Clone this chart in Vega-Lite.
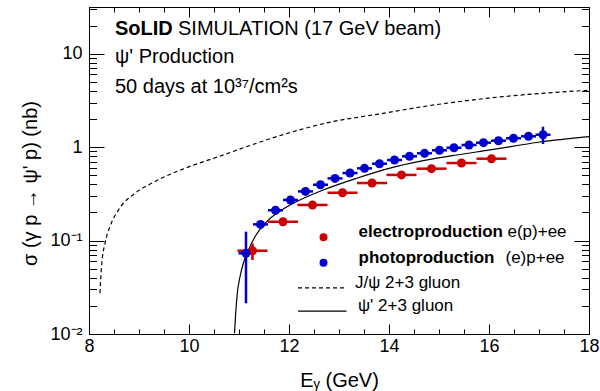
{
  "$schema": "https://vega.github.io/schema/vega-lite/v6.json",
  "width": 500,
  "height": 327,
  "autosize": "none",
  "padding": {"left": 89, "top": 7, "right": 11, "bottom": 57},
  "config": {
    "view": {"stroke": "black", "strokeWidth": 1},
    "font": "Liberation Sans",
    "axis": {"grid": false, "domainColor": "black", "tickColor": "black", "labelColor": "black", "titleColor": "black", "labelFont": "Liberation Sans", "titleFont": "Liberation Sans", "titleFontWeight": "normal", "domainWidth": 1, "tickWidth": 1, "labelFontSize": 18, "labelFlush": false, "labelOverlap": false}
  },
  "datasets": {
    "jpsi": [
      {"E": 8.22, "sigma": 0.0273}, {"E": 8.25, "sigma": 0.0525}, {"E": 8.32, "sigma": 0.0935}, {"E": 8.42, "sigma": 0.141},
      {"E": 8.59, "sigma": 0.213}, {"E": 8.92, "sigma": 0.321}, {"E": 9.25, "sigma": 0.41}, {"E": 9.92, "sigma": 0.594},
      {"E": 10.59, "sigma": 0.791}, {"E": 11.25, "sigma": 1.056}, {"E": 11.92, "sigma": 1.38}, {"E": 12.8, "sigma": 1.84},
      {"E": 13.82, "sigma": 2.27}, {"E": 14.69, "sigma": 2.72}, {"E": 16.0, "sigma": 3.35}, {"E": 18.0, "sigma": 4.07}
    ],
    "psi": [
      {"E": 10.91, "sigma": 0.0102}, {"E": 10.934, "sigma": 0.0167}, {"E": 10.966, "sigma": 0.0273}, {"E": 11.02, "sigma": 0.041},
      {"E": 11.086, "sigma": 0.057}, {"E": 11.186, "sigma": 0.079}, {"E": 11.32, "sigma": 0.11}, {"E": 11.52, "sigma": 0.153},
      {"E": 11.854, "sigma": 0.213}, {"E": 12.02, "sigma": 0.24}, {"E": 12.686, "sigma": 0.348}, {"E": 13.354, "sigma": 0.465},
      {"E": 14.02, "sigma": 0.597}, {"E": 14.686, "sigma": 0.716}, {"E": 15.354, "sigma": 0.824}, {"E": 16.02, "sigma": 0.933},
      {"E": 17.02, "sigma": 1.135}, {"E": 18.0, "sigma": 1.295}
    ],
    "photo": [
      {"E": 11.14, "sigma": 0.0731, "Elo": 10.99, "Ehi": 11.29, "slo": 0.0213, "shi": 0.1245},
      {"E": 11.43, "sigma": 0.149, "Elo": 11.28, "Ehi": 11.58, "slo": 0.145, "shi": 0.153},
      {"E": 11.73, "sigma": 0.211, "Elo": 11.58, "Ehi": 11.88, "slo": 0.205, "shi": 0.217},
      {"E": 12.03, "sigma": 0.272, "Elo": 11.88, "Ehi": 12.18, "slo": 0.265, "shi": 0.279},
      {"E": 12.33, "sigma": 0.336, "Elo": 12.18, "Ehi": 12.48, "slo": 0.327, "shi": 0.345},
      {"E": 12.63, "sigma": 0.396, "Elo": 12.48, "Ehi": 12.78, "slo": 0.385, "shi": 0.407},
      {"E": 12.92, "sigma": 0.463, "Elo": 12.77, "Ehi": 13.07, "slo": 0.451, "shi": 0.475},
      {"E": 13.22, "sigma": 0.528, "Elo": 13.07, "Ehi": 13.37, "slo": 0.514, "shi": 0.542},
      {"E": 13.51, "sigma": 0.593, "Elo": 13.36, "Ehi": 13.66, "slo": 0.577, "shi": 0.609},
      {"E": 13.81, "sigma": 0.665, "Elo": 13.66, "Ehi": 13.96, "slo": 0.647, "shi": 0.683},
      {"E": 14.11, "sigma": 0.728, "Elo": 13.96, "Ehi": 14.26, "slo": 0.708, "shi": 0.748},
      {"E": 14.41, "sigma": 0.798, "Elo": 14.26, "Ehi": 14.56, "slo": 0.776, "shi": 0.82},
      {"E": 14.71, "sigma": 0.859, "Elo": 14.56, "Ehi": 14.86, "slo": 0.836, "shi": 0.882},
      {"E": 15.01, "sigma": 0.925, "Elo": 14.86, "Ehi": 15.16, "slo": 0.9, "shi": 0.95},
      {"E": 15.3, "sigma": 0.986, "Elo": 15.15, "Ehi": 15.45, "slo": 0.959, "shi": 1.013},
      {"E": 15.6, "sigma": 1.054, "Elo": 15.45, "Ehi": 15.75, "slo": 1.025, "shi": 1.083},
      {"E": 15.89, "sigma": 1.116, "Elo": 15.74, "Ehi": 16.04, "slo": 1.085, "shi": 1.147},
      {"E": 16.19, "sigma": 1.172, "Elo": 16.04, "Ehi": 16.34, "slo": 1.14, "shi": 1.204},
      {"E": 16.49, "sigma": 1.244, "Elo": 16.34, "Ehi": 16.64, "slo": 1.21, "shi": 1.278},
      {"E": 16.79, "sigma": 1.306, "Elo": 16.64, "Ehi": 16.94, "slo": 1.27, "shi": 1.342},
      {"E": 17.08, "sigma": 1.359, "Elo": 16.93, "Ehi": 17.23, "slo": 1.081, "shi": 1.655}
    ],
    "electro": [
      {"E": 11.27, "sigma": 0.0779, "Elo": 10.97, "Ehi": 11.57, "slo": 0.0619, "shi": 0.0935},
      {"E": 11.88, "sigma": 0.159, "Elo": 11.58, "Ehi": 12.18, "slo": 0.154, "shi": 0.164},
      {"E": 12.47, "sigma": 0.2405, "Elo": 12.17, "Ehi": 12.77, "slo": 0.233, "shi": 0.248},
      {"E": 13.07, "sigma": 0.325, "Elo": 12.77, "Ehi": 13.37, "slo": 0.315, "shi": 0.335},
      {"E": 13.66, "sigma": 0.413, "Elo": 13.36, "Ehi": 13.96, "slo": 0.401, "shi": 0.425},
      {"E": 14.25, "sigma": 0.504, "Elo": 13.95, "Ehi": 14.55, "slo": 0.489, "shi": 0.519},
      {"E": 14.85, "sigma": 0.588, "Elo": 14.55, "Ehi": 15.15, "slo": 0.571, "shi": 0.605},
      {"E": 15.45, "sigma": 0.676, "Elo": 15.15, "Ehi": 15.75, "slo": 0.656, "shi": 0.696},
      {"E": 16.05, "sigma": 0.752, "Elo": 15.75, "Ehi": 16.35, "slo": 0.73, "shi": 0.774}
    ],
    "legendDots": [
      {"E": 12.69, "sigma": 0.1084, "kind": "electroproduction"},
      {"E": 12.69, "sigma": 0.058, "kind": "photoproduction"}
    ],
    "legendLines": [
      {"E": 12.18, "E2": 13.15, "sigma": 0.0311, "kind": "J/ψ 2+3 gluon"},
      {"E": 12.18, "E2": 13.15, "sigma": 0.0176, "kind": "ψ' 2+3 gluon"}
    ],
    "boldText": [
      {"E": 8.52, "sigma": 15.9, "label": "SoLID", "group": "header"},
      {"E": 13.39, "sigma": 0.1084, "label": "electroproduction", "group": "legend"},
      {"E": 13.39, "sigma": 0.058, "label": "photoproduction", "group": "legend"}
    ],
    "plainText": [
      {"E": 9.78, "sigma": 15.9, "label": "SIMULATION (17 GeV beam)", "group": "header"},
      {"E": 8.52, "sigma": 7.95, "label": "ψ' Production", "group": "header"},
      {"E": 8.52, "sigma": 3.8, "label": "50 days at 10³⁷/cm²s", "group": "header"},
      {"E": 16.37, "sigma": 0.1084, "label": "e(p)+ee", "group": "legend"},
      {"E": 16.33, "sigma": 0.058, "label": "(e)p+ee", "group": "legend"},
      {"E": 13.32, "sigma": 0.0311, "label": "J/ψ 2+3 gluon", "group": "legend"},
      {"E": 13.38, "sigma": 0.0176, "label": "ψ' 2+3 gluon", "group": "legend"}
    ]
  },
  "resolve": {"axis": {"x": "independent", "y": "independent"}},
  "layer": [
    {
      "data": {"name": "jpsi"},
      "mark": {"type": "line", "color": "black", "strokeWidth": 1.2, "strokeDash": [4, 3], "interpolate": "monotone", "clip": true},
      "encoding": {
        "x": {"field": "E", "type": "quantitative", "scale": {"domain": [8, 18], "nice": false, "zero": false},
              "axis": {"orient": "bottom", "values": [8, 10, 12, 14, 16, 18], "tickSize": -10, "labelPadding": 13, "title": "Eᵧ (GeV)", "titleFontSize": 20, "titleX": 250, "titleY": 52, "titleBaseline": "alphabetic", "titleAnchor": "middle"}},
        "y": {"field": "sigma", "type": "quantitative", "scale": {"type": "log", "domain": [0.01, 31.62], "nice": false},
              "axis": {"orient": "left", "values": [0.01, 0.1, 1, 10], "tickSize": -15, "labelPadding": 22, "labelBaseline": "middle",
                       "labelExpr": "datum.value == 10 ? '10' : datum.value == 1 ? '1' : datum.value == 0.1 ? '10⁻¹' : '10⁻²'",
                       "title": "σ (γ p → ψ' p) (nb)", "titleFontSize": 20, "titleX": -59, "titleY": 176, "titleBaseline": "middle", "titleAngle": -90}}
      }
    },
    {
      "data": {"name": "psi"},
      "mark": {"type": "line", "color": "black", "strokeWidth": 1.2, "interpolate": "monotone", "clip": true},
      "encoding": {
        "x": {"field": "E", "type": "quantitative", "scale": {"domain": [8, 18], "nice": false, "zero": false},
              "axis": {"orient": "top", "values": [8, 10, 12, 14, 16, 18], "tickSize": -10, "labels": false, "title": null}},
        "y": {"field": "sigma", "type": "quantitative", "scale": {"type": "log", "domain": [0.01, 31.62], "nice": false},
              "axis": {"orient": "right", "values": [0.01, 0.1, 1, 10], "tickSize": -15, "labels": false, "title": null}}
      }
    },
    {
      "data": {"name": "photo"},
      "mark": {"type": "rule", "color": "#0000cc", "strokeWidth": 2.5},
      "encoding": {
        "x": {"field": "Elo", "type": "quantitative", "scale": {"domain": [8, 18], "nice": false, "zero": false},
              "axis": {"orient": "bottom", "values": [8.5, 9, 9.5, 10.5, 11, 11.5, 12.5, 13, 13.5, 14.5, 15, 15.5, 16.5, 17, 17.5], "tickSize": -5, "labels": false, "domain": false, "title": null}},
        "x2": {"field": "Ehi"},
        "y": {"field": "sigma", "type": "quantitative", "scale": {"type": "log", "domain": [0.01, 31.62], "nice": false},
              "axis": {"orient": "left", "values": [0.02, 0.03, 0.04, 0.05, 0.06, 0.07, 0.08, 0.09, 0.2, 0.3, 0.4, 0.5, 0.6, 0.7, 0.8, 0.9, 2, 3, 4, 5, 6, 7, 8, 9, 20, 30], "tickSize": -7.5, "labels": false, "domain": false, "title": null}}
      }
    },
    {
      "data": {"name": "photo"},
      "mark": {"type": "rule", "color": "#0000cc", "strokeWidth": 2.5},
      "encoding": {
        "x": {"field": "E", "type": "quantitative", "scale": {"domain": [8, 18], "nice": false, "zero": false},
              "axis": {"orient": "top", "values": [8.5, 9, 9.5, 10.5, 11, 11.5, 12.5, 13, 13.5, 14.5, 15, 15.5, 16.5, 17, 17.5], "tickSize": -5, "labels": false, "domain": false, "title": null}},
        "y": {"field": "slo", "type": "quantitative", "scale": {"type": "log", "domain": [0.01, 31.62], "nice": false},
              "axis": {"orient": "right", "values": [0.02, 0.03, 0.04, 0.05, 0.06, 0.07, 0.08, 0.09, 0.2, 0.3, 0.4, 0.5, 0.6, 0.7, 0.8, 0.9, 2, 3, 4, 5, 6, 7, 8, 9, 20, 30], "tickSize": -7.5, "labels": false, "domain": false, "title": null}},
        "y2": {"field": "shi"}
      }
    },
    {
      "data": {"name": "electro"},
      "mark": {"type": "rule", "color": "#cc0000", "strokeWidth": 2.5},
      "encoding": {
        "x": {"field": "Elo", "type": "quantitative", "axis": null},
        "x2": {"field": "Ehi"},
        "y": {"field": "sigma", "type": "quantitative", "axis": null}
      }
    },
    {
      "data": {"name": "electro"},
      "mark": {"type": "rule", "color": "#cc0000", "strokeWidth": 2.5},
      "encoding": {
        "x": {"field": "E", "type": "quantitative", "axis": null},
        "y": {"field": "slo", "type": "quantitative", "axis": null},
        "y2": {"field": "shi"}
      }
    },
    {
      "data": {"name": "electro"},
      "mark": {"type": "point", "shape": "circle", "filled": true, "opacity": 1, "color": "#cc0000", "size": 81},
      "encoding": {
        "x": {"field": "E", "type": "quantitative", "axis": null},
        "y": {"field": "sigma", "type": "quantitative", "axis": null}
      }
    },
    {
      "data": {"name": "photo"},
      "mark": {"type": "point", "shape": "circle", "filled": true, "opacity": 1, "color": "#0000cc", "size": 81},
      "encoding": {
        "x": {"field": "E", "type": "quantitative", "axis": null},
        "y": {"field": "sigma", "type": "quantitative", "axis": null}
      }
    },
    {
      "data": {"name": "legendDots"},
      "mark": {"type": "point", "shape": "circle", "filled": true, "opacity": 1, "size": 64},
      "encoding": {
        "x": {"field": "E", "type": "quantitative", "axis": null},
        "y": {"field": "sigma", "type": "quantitative", "axis": null},
        "color": {"field": "kind", "type": "nominal", "scale": {"domain": ["electroproduction", "photoproduction"], "range": ["#cc0000", "#0000cc"]}, "legend": null}
      }
    },
    {
      "data": {"name": "legendLines"},
      "mark": {"type": "rule", "color": "black", "strokeWidth": 1.2},
      "encoding": {
        "x": {"field": "E", "type": "quantitative", "axis": null},
        "x2": {"field": "E2"},
        "y": {"field": "sigma", "type": "quantitative", "axis": null},
        "strokeDash": {"field": "kind", "type": "nominal", "scale": {"domain": ["J/ψ 2+3 gluon", "ψ' 2+3 gluon"], "range": [[4, 3], [1, 0]]}, "legend": null}
      }
    },
    {
      "data": {"name": "boldText"},
      "mark": {"type": "text", "align": "left", "baseline": "alphabetic", "fontWeight": "bold", "color": "black", "font": "Liberation Sans"},
      "encoding": {
        "x": {"field": "E", "type": "quantitative", "axis": null},
        "y": {"field": "sigma", "type": "quantitative", "axis": null},
        "text": {"field": "label"},
        "size": {"field": "group", "type": "nominal", "scale": {"domain": ["header", "legend"], "range": [20, 17]}, "legend": null}
      }
    },
    {
      "data": {"name": "plainText"},
      "mark": {"type": "text", "align": "left", "baseline": "alphabetic", "color": "black", "font": "Liberation Sans"},
      "encoding": {
        "x": {"field": "E", "type": "quantitative", "axis": null},
        "y": {"field": "sigma", "type": "quantitative", "axis": null},
        "text": {"field": "label"},
        "size": {"field": "group", "type": "nominal", "scale": {"domain": ["header", "legend"], "range": [20, 17]}, "legend": null}
      }
    }
  ]
}
